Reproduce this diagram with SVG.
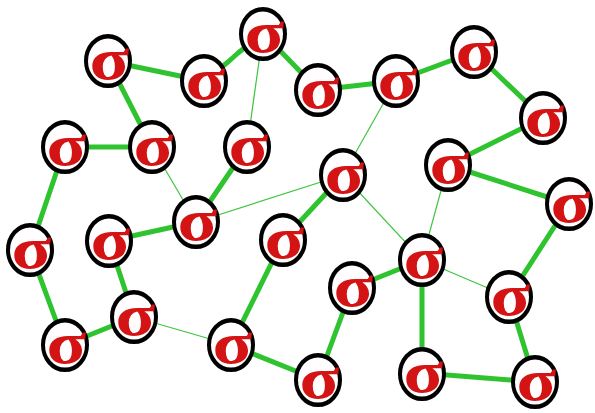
<svg xmlns="http://www.w3.org/2000/svg" width="595" height="413" viewBox="0 0 595 413">
<style>
.thick{stroke:#2fc42f;stroke-width:5;fill:none;stroke-linecap:round;stroke-linejoin:round}
.thin{stroke:#3fc43f;stroke-width:1.2;fill:none}
.n circle{fill:#fffdfd;stroke:#000;stroke-width:4}
.n text{fill:#d41414;font-family:"Liberation Serif","DejaVu Serif",serif;font-weight:bold;font-size:62px;text-anchor:middle}
</style>
<rect width="595" height="413" fill="#fff"/>
<g id="connectors">
<line class="thick" x1="108" y1="61" x2="204" y2="81"/>
<polyline class="thick" points="204,81 228,62 238,53 263,33"/>
<line class="thick" x1="263" y1="33" x2="318" y2="90"/>
<line class="thick" x1="318" y1="90" x2="396" y2="81"/>
<line class="thick" x1="396" y1="81" x2="474" y2="52"/>
<line class="thick" x1="474" y1="52" x2="543" y2="118"/>
<line class="thick" x1="543" y1="118" x2="448" y2="165"/>
<line class="thick" x1="448" y1="165" x2="569" y2="204"/>
<line class="thick" x1="108" y1="61" x2="152" y2="147"/>
<line class="thick" x1="65" y1="147" x2="152" y2="147"/>
<line class="thick" x1="65" y1="147" x2="30" y2="250"/>
<line class="thick" x1="30" y1="250" x2="65" y2="345"/>
<line class="thick" x1="65" y1="345" x2="134" y2="317"/>
<line class="thick" x1="134" y1="317" x2="109" y2="241"/>
<line class="thick" x1="109" y1="241" x2="196" y2="222"/>
<line class="thick" x1="196" y1="222" x2="247" y2="147"/>
<line class="thin" x1="134" y1="317" x2="231" y2="345"/>
<line class="thick" x1="231" y1="345" x2="283" y2="240"/>
<line class="thick" x1="283" y1="240" x2="343" y2="175"/>
<line class="thick" x1="231" y1="345" x2="318" y2="380"/>
<line class="thick" x1="318" y1="380" x2="352" y2="288"/>
<line class="thick" x1="352" y1="288" x2="422" y2="260"/>
<line class="thick" x1="422" y1="260" x2="422" y2="373"/>
<line class="thick" x1="422" y1="373" x2="535" y2="382"/>
<line class="thick" x1="535" y1="382" x2="509" y2="297"/>
<line class="thick" x1="509" y1="297" x2="569" y2="204"/>
<line class="thin" x1="263" y1="33" x2="247" y2="147"/>
<line class="thin" x1="152" y1="147" x2="196" y2="222"/>
<line class="thin" x1="196" y1="222" x2="343" y2="175"/>
<line class="thin" x1="343" y1="175" x2="396" y2="81"/>
<line class="thin" x1="343" y1="175" x2="422" y2="260"/>
<line class="thin" x1="448" y1="165" x2="422" y2="260"/>
<line class="thin" x1="422" y1="260" x2="509" y2="297"/>
</g>
<g id="n1" class="n" transform="translate(108,61) scale(1,1.13)"><circle r="22"/><text x="1.25" y="18.5" transform="scale(1.18,0.85)">σ</text></g>
<g id="n2" class="n" transform="translate(204,81) scale(1,1.13)"><circle r="22"/><text x="1.25" y="18.5" transform="scale(1.18,0.85)">σ</text></g>
<g id="n3" class="n" transform="translate(263,34) scale(1,1.13)"><circle r="22"/><text x="1.25" y="18.5" transform="scale(1.18,0.85)">σ</text></g>
<g id="n4" class="n" transform="translate(318,90) scale(1,1.13)"><circle r="22"/><text x="1.25" y="18.5" transform="scale(1.18,0.85)">σ</text></g>
<g id="n5" class="n" transform="translate(396,81) scale(1,1.13)"><circle r="22"/><text x="1.25" y="18.5" transform="scale(1.18,0.85)">σ</text></g>
<g id="n6" class="n" transform="translate(474,52) scale(1,1.13)"><circle r="22"/><text x="1.25" y="18.5" transform="scale(1.18,0.85)">σ</text></g>
<g id="n7" class="n" transform="translate(543,118) scale(1,1.13)"><circle r="22"/><text x="1.25" y="18.5" transform="scale(1.18,0.85)">σ</text></g>
<g id="n8" class="n" transform="translate(448,165) scale(1,1.13)"><circle r="22"/><text x="1.25" y="18.5" transform="scale(1.18,0.85)">σ</text></g>
<g id="n9" class="n" transform="translate(569,204) scale(1,1.13)"><circle r="22"/><text x="1.25" y="18.5" transform="scale(1.18,0.85)">σ</text></g>
<g id="n10" class="n" transform="translate(343,175) scale(1,1.13)"><circle r="22"/><text x="1.25" y="18.5" transform="scale(1.18,0.85)">σ</text></g>
<g id="n11" class="n" transform="translate(65,147) scale(1,1.13)"><circle r="22"/><text x="1.25" y="18.5" transform="scale(1.18,0.85)">σ</text></g>
<g id="n12" class="n" transform="translate(152,147) scale(1,1.13)"><circle r="22"/><text x="1.25" y="18.5" transform="scale(1.18,0.85)">σ</text></g>
<g id="n13" class="n" transform="translate(247,147) scale(1,1.13)"><circle r="22"/><text x="1.25" y="18.5" transform="scale(1.18,0.85)">σ</text></g>
<g id="n14" class="n" transform="translate(196,222) scale(1,1.13)"><circle r="22"/><text x="1.25" y="18.5" transform="scale(1.18,0.85)">σ</text></g>
<g id="n15" class="n" transform="translate(30,250) scale(1,1.13)"><circle r="22"/><text x="1.25" y="18.5" transform="scale(1.18,0.85)">σ</text></g>
<g id="n16" class="n" transform="translate(109,241) scale(1,1.13)"><circle r="22"/><text x="1.25" y="18.5" transform="scale(1.18,0.85)">σ</text></g>
<g id="n17" class="n" transform="translate(283,240) scale(1,1.13)"><circle r="22"/><text x="1.25" y="18.5" transform="scale(1.18,0.85)">σ</text></g>
<g id="n18" class="n" transform="translate(134,317) scale(1,1.13)"><circle r="22"/><text x="1.25" y="18.5" transform="scale(1.18,0.85)">σ</text></g>
<g id="n19" class="n" transform="translate(65,345) scale(1,1.13)"><circle r="22"/><text x="1.25" y="18.5" transform="scale(1.18,0.85)">σ</text></g>
<g id="n20" class="n" transform="translate(231,345) scale(1,1.13)"><circle r="22"/><text x="1.25" y="18.5" transform="scale(1.18,0.85)">σ</text></g>
<g id="n21" class="n" transform="translate(318,380) scale(1,1.13)"><circle r="22"/><text x="1.25" y="18.5" transform="scale(1.18,0.85)">σ</text></g>
<g id="n22" class="n" transform="translate(352,288) scale(1,1.13)"><circle r="22"/><text x="1.25" y="18.5" transform="scale(1.18,0.85)">σ</text></g>
<g id="n23" class="n" transform="translate(422,260) scale(1,1.13)"><circle r="22"/><text x="1.25" y="18.5" transform="scale(1.18,0.85)">σ</text></g>
<g id="n24" class="n" transform="translate(509,297) scale(1,1.13)"><circle r="22"/><text x="1.25" y="18.5" transform="scale(1.18,0.85)">σ</text></g>
<g id="n25" class="n" transform="translate(422,374) scale(1,1.13)"><circle r="22"/><text x="1.25" y="18.5" transform="scale(1.18,0.85)">σ</text></g>
<g id="n26" class="n" transform="translate(535,382) scale(1,1.13)"><circle r="22"/><text x="1.25" y="18.5" transform="scale(1.18,0.85)">σ</text></g>
</svg>
